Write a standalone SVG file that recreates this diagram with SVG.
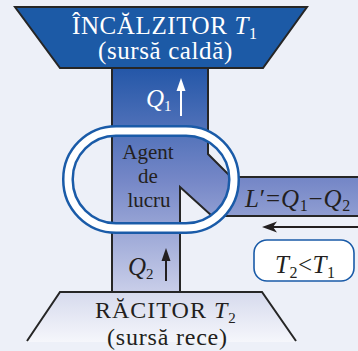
<svg xmlns="http://www.w3.org/2000/svg" width="358" height="351" viewBox="0 0 358 351">
<style>
.t{font-family:"Liberation Serif","Times New Roman",serif;}
.w{fill:#ffffff;}
.k{fill:#231f20;}
.i{font-style:italic;}
.ln{stroke:#262626;stroke-width:2;fill:none;}
</style>
<defs>
<linearGradient id="col" gradientUnits="userSpaceOnUse" x1="0" y1="68" x2="0" y2="292">
<stop offset="0" stop-color="#2457a8"/>
<stop offset="0.5" stop-color="#7587c7"/>
<stop offset="1" stop-color="#c9cee9"/>
</linearGradient>
<linearGradient id="cold" gradientUnits="userSpaceOnUse" x1="0" y1="292" x2="0" y2="345">
<stop offset="0" stop-color="#d6daed"/>
<stop offset="1" stop-color="#f7f8fc"/>
</linearGradient>
</defs>
<rect width="358" height="351" fill="#edf0f8"/>

<g id="agent">
<path d="M112,68 L208,68 L208,154 L231,177 L358,177 L358,216 L212,216 L180,187 L180,292 L112,292 Z" fill="url(#col)"/>
<path class="ln" d="M112,68 L112,292 M208,68 L208,154 L231,177 L358,177 M358,216 L212,216 L180,187 L180,292"/>
<text class="t k" font-size="21" text-anchor="middle" x="148" y="159">Agent</text>
<text class="t k" font-size="21" text-anchor="middle" x="148" y="183">de</text>
<text class="t k" font-size="21" text-anchor="middle" x="149" y="207">lucru</text>
</g>

<g id="heater">
<polygon points="15,7 307,7 263,68 60,68" fill="#1c5aa6" stroke="#262626" stroke-width="2" stroke-linejoin="miter"/>
<text class="t w" font-size="25" letter-spacing="0.6" x="72" y="34">ÎNCĂLZITOR <tspan class="i">T</tspan><tspan font-size="16" dy="5">1</tspan></text>
<text class="t w" font-size="25" letter-spacing="0.6" x="98" y="59">(sursă caldă)</text>
</g>

<g id="cooler">
<polygon points="60,292 262,292 296,342 27,342" fill="url(#cold)"/>
<path class="ln" d="M27,341 L60,292 L262,292 L296,341"/>
<text class="t k" font-size="24" letter-spacing="1" x="95" y="318">RĂCITOR <tspan class="i">T</tspan><tspan font-size="15" dy="5">2</tspan></text>
<text class="t k" font-size="24" letter-spacing="0.8" x="107" y="345">(sursă rece)</text>
</g>

<g id="ring">
<rect x="68" y="131" width="166" height="97" rx="48" ry="48" fill="none" stroke="#1a5ba8" stroke-width="12"/>
<rect x="68" y="131" width="166" height="97" rx="48" ry="48" fill="none" stroke="#ffffff" stroke-width="7"/>
</g>

<g id="condition">
<rect x="254" y="240" width="100" height="41" rx="13" ry="13" fill="#ffffff" stroke="#1a5ba8" stroke-width="1.6"/>
<text class="t k" font-size="25" letter-spacing="0.5" x="275" y="273"><tspan class="i">T</tspan><tspan font-size="16" dy="5">2</tspan><tspan dy="-5">&lt;</tspan><tspan class="i">T</tspan><tspan font-size="16" dy="5">1</tspan></text>
</g>

<g id="connectors">
<line x1="181" y1="116" x2="181" y2="86" stroke="#ffffff" stroke-width="2"/>
<polygon points="181,78 176.5,91 185.5,91" fill="#ffffff"/>
<line x1="166" y1="281" x2="166" y2="256" stroke="#231f20" stroke-width="2"/>
<polygon points="166,248 161.5,261 170.5,261" fill="#231f20"/>
<line x1="358" y1="227" x2="272" y2="227" stroke="#231f20" stroke-width="2"/>
<polygon points="262,227 277,221.5 273,227 277,232.5" fill="#231f20"/>
</g>

<g id="labels">
<text class="t w" font-size="25" x="146" y="107"><tspan class="i">Q</tspan><tspan font-size="15" dy="4">1</tspan></text>
<text class="t k" font-size="25" x="128" y="275"><tspan class="i">Q</tspan><tspan font-size="15" dy="4">2</tspan></text>
<text class="t k" font-size="25" letter-spacing="0.8" x="245" y="207"><tspan class="i">L</tspan>′=<tspan class="i">Q</tspan><tspan font-size="16" dy="4">1</tspan><tspan dy="-4">−</tspan><tspan class="i">Q</tspan><tspan font-size="16" dy="4">2</tspan></text>
</g>
</svg>
